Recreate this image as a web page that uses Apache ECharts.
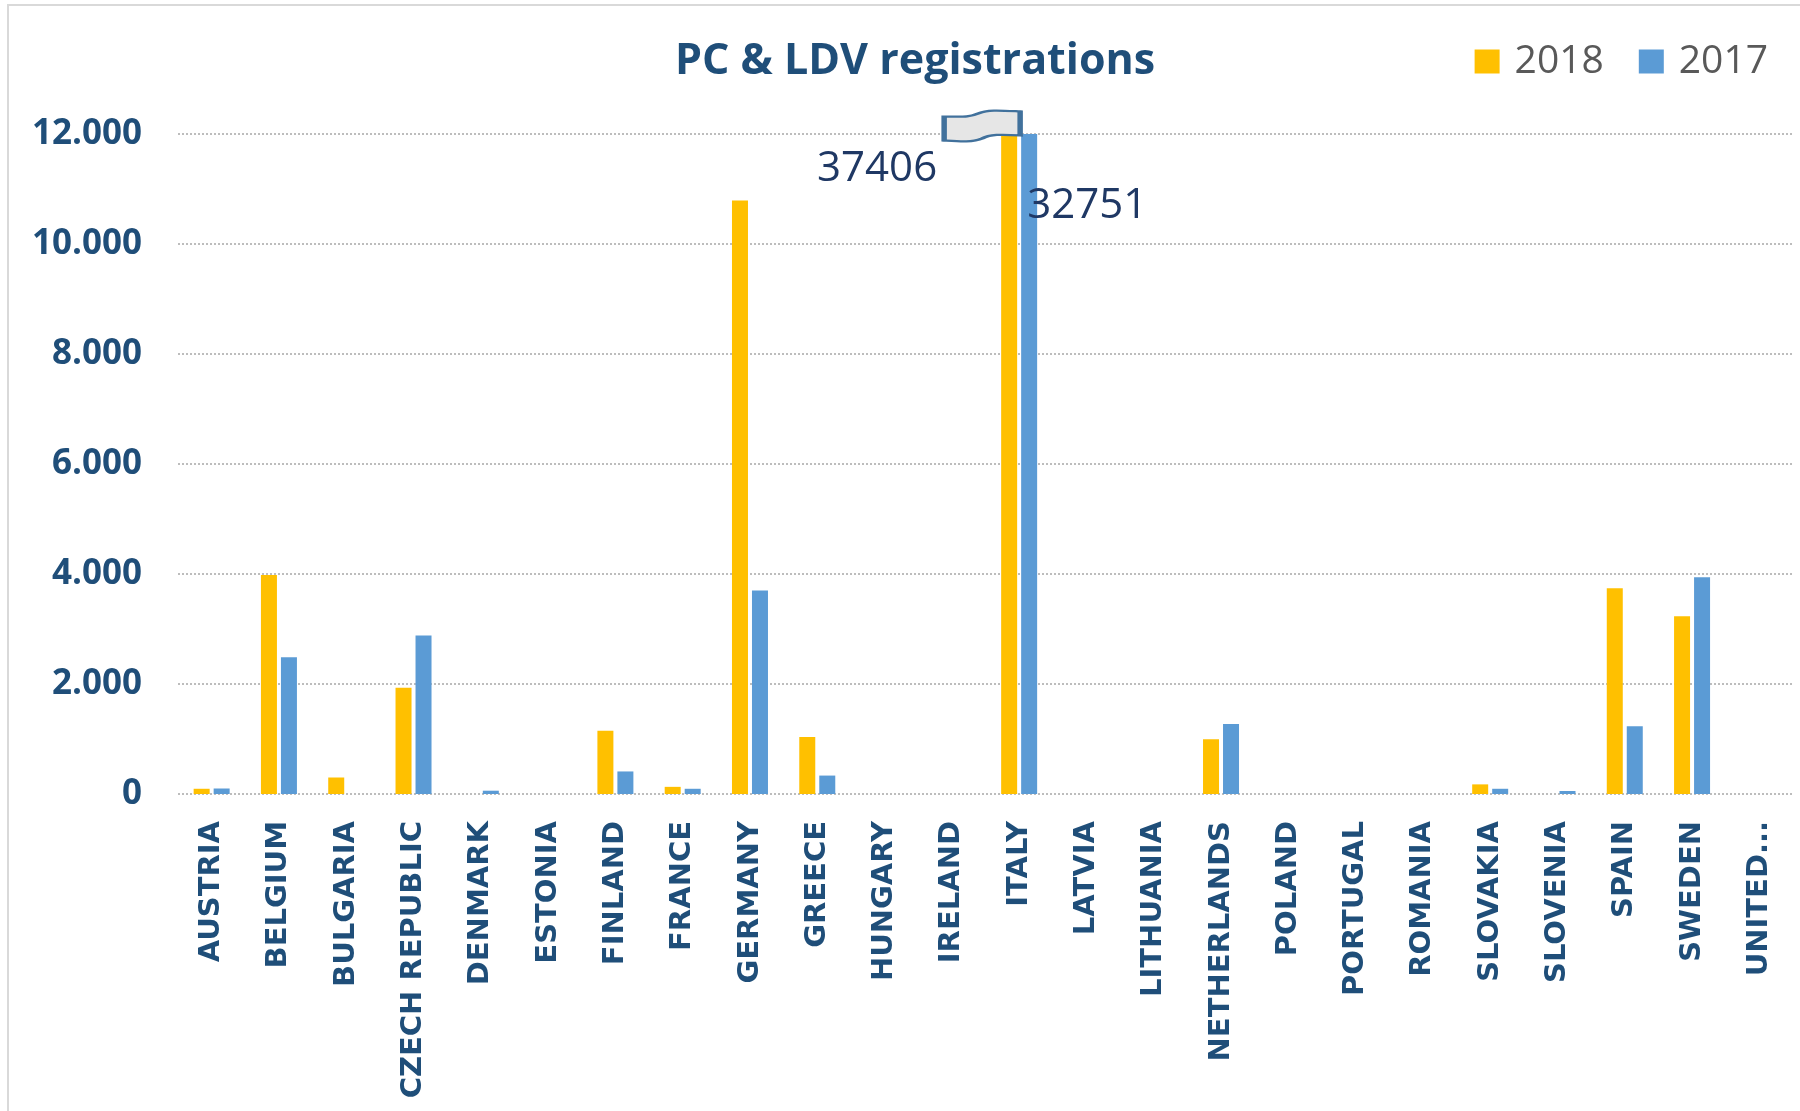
<!DOCTYPE html>
<html>
<head>
<meta charset="utf-8">
<title>PC & LDV registrations</title>
<script src="https://cdn.jsdelivr.net/npm/echarts@6/dist/echarts.min.js"></script>
<style>
  html, body { margin: 0; padding: 0; background: #fff; }
  #main { width: 1800px; height: 1111px; }
</style>
</head>
<body>
<div id="main"></div>
<script>
// 国家
var countries = ['AUSTRIA', 'BELGIUM', 'BULGARIA', 'CZECH REPUBLIC', 'DENMARK', 'ESTONIA',
  'FINLAND', 'FRANCE', 'GERMANY', 'GREECE', 'HUNGARY', 'IRELAND', 'ITALY', 'LATVIA',
  'LITHUANIA', 'NETHERLANDS', 'POLAND', 'PORTUGAL', 'ROMANIA', 'SLOVAKIA', 'SLOVENIA',
  'SPAIN', 'SWEDEN', 'UNITED KINGDOM']
// 2018 / 2017 注册量
var values2018 = [95, 3980, 300, 1930, 0, 0, 1150, 130, 10790, 1035, 0, 0, 37406, 0,
  0, 995, 0, 0, 0, 175, 0, 3740, 3230, 0]
var values2017 = [100, 2485, 0, 2880, 60, 0, 410, 95, 3700, 335, 0, 0, 32751, 0,
  0, 1275, 0, 0, 0, 95, 55, 1230, 3940, 0]
var yTicks = [0, 2000, 4000, 6000, 8000, 10000, 12000]

var navy = '#1F4E79'

function fmt (v) {
  return String(v).replace(/\B(?=(\d{3})+(?!\d))/g, '.')
}

// 超出坐标轴的柱子显示真实数值
function withOverflowLabel (arr, pos, align) {
  var max = yTicks[yTicks.length - 1]
  return arr.map(function (v) {
    if (v <= max) return v
    return {
      value: v,
      label: {
        show: true,
        position: pos,
        align: align,
        verticalAlign: 'middle',
        formatter: String(v),
        fontFamily: 'Open Sans',
        fontSize: 42,
        color: '#1F3864'
      }
    }
  })
}

var myChart = echarts.init(document.getElementById('main'))
myChart.setOption({
  backgroundColor: '#fff',
  animation: false,
  graphic: [{
    type: 'rect',
    shape: { x: 8, y: 5, width: 1800, height: 1200 },
    style: { fill: 'none', stroke: '#d9d9d9', lineWidth: 2 },
    silent: true
  }],
  title: {
    text: 'PC & LDV registrations',
    left: 675,
    top: 40,
    padding: 0,
    textStyle: { fontFamily: 'Open Sans', fontWeight: 'bold', fontSize: 43, color: navy }
  },
  legend: {
    data: ['2018', '2017'],
    right: 32,
    top: 42,
    padding: 0,
    icon: 'rect',
    itemWidth: 25,
    itemHeight: 24,
    itemGap: 35,
    textStyle: { fontFamily: 'Open Sans', fontSize: 39, color: '#595959', padding: [0, 0, 0, 10] }
  },
  grid: { left: 178, right: 7, top: 134, bottom: 317 },
  xAxis: {
    type: 'category',
    data: countries,
    axisLine: { show: false },
    axisTick: { show: false },
    axisLabel: {
      interval: 0,
      rotate: 90,
      margin: 27,
      fontFamily: 'DejaVu Sans',
      fontWeight: 'bold',
      fontSize: 29,
      color: navy,
      formatter: function (v) { return v === 'UNITED KINGDOM' ? 'UNITED...' : v }
    }
  },
  yAxis: {
    type: 'value',
    min: 0,
    max: 12000,
    interval: 2000,
    axisLine: { show: false },
    axisTick: { show: false },
    axisLabel: {
      margin: 36,
      fontFamily: 'Open Sans',
      fontWeight: 'bold',
      fontSize: 35,
      color: navy,
      formatter: fmt
    },
    splitLine: { lineStyle: { type: 'dotted', color: '#bdbdbd', width: 2 } }
  },
  series: [
    {
      name: '2018',
      type: 'bar',
      barWidth: 16,
      barGap: '25%',
      clip: true,
      itemStyle: { color: '#FFC000' },
      data: withOverflowLabel(values2018, [-64, 35], 'right'),
      markPoint: {
        symbol: 'path://M0,6 C18,6 24,7 34,3 C44,-1 56,0 76,1 L76,24 C56,23 46,23 38,27 C28,31 16,30 0,29 Z',
        symbolSize: [76, 31],
        symbolKeepAspect: false,
        symbolOffset: [-27, -8],
        label: { show: false },
        itemStyle: { color: '#e6e6e6', borderColor: '#41719C', borderWidth: 3.5 },
        data: [{ coord: ['ITALY', 12000] }]
      }
    },
    {
      name: '2017',
      type: 'bar',
      barWidth: 16,
      clip: true,
      itemStyle: { color: '#5B9BD5' },
      data: withOverflowLabel(values2017, [6, 72], 'left')
    }
  ]
})
</script>
</body>
</html>
